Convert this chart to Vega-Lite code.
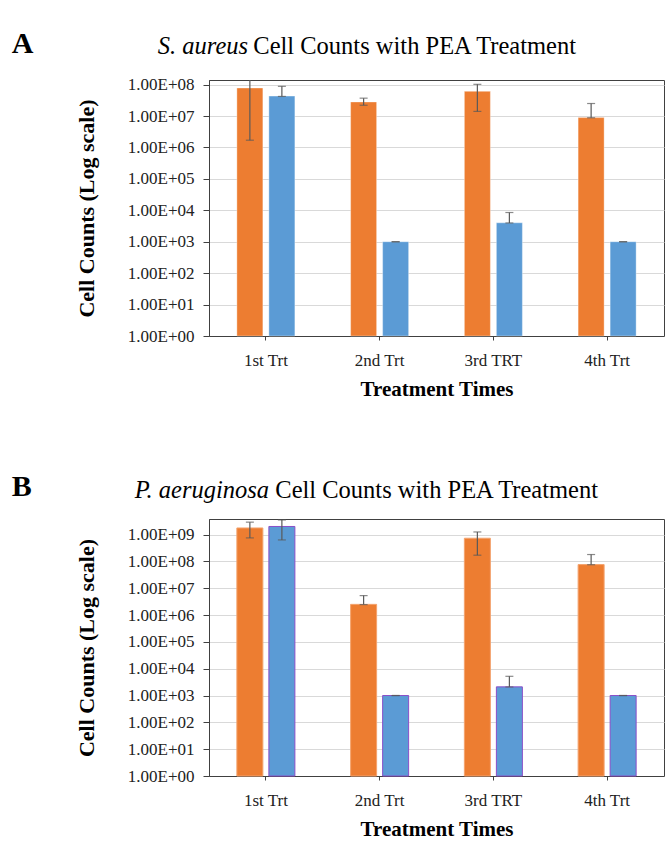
{
  "$schema": "https://vega.github.io/schema/vega-lite/v6.json",
  "padding": {"left": 11, "top": 28, "right": 0, "bottom": 0},
  "background": "white",
  "datasets": {
    "counts": [
      {"panel": "A", "trt": "1st Trt", "group": "Control", "value": 78000000, "lo": 1700000, "hi": 155000000},
      {"panel": "A", "trt": "1st Trt", "group": "PEA", "value": 43000000, "lo": 42000000, "hi": 88000000},
      {"panel": "A", "trt": "2nd Trt", "group": "Control", "value": 28000000, "lo": 22000000, "hi": 37000000},
      {"panel": "A", "trt": "2nd Trt", "group": "PEA", "value": 1000, "lo": 1000, "hi": 1000},
      {"panel": "A", "trt": "3rd TRT", "group": "Control", "value": 61000000, "lo": 14000000, "hi": 102000000},
      {"panel": "A", "trt": "3rd TRT", "group": "PEA", "value": 4000, "lo": 3950, "hi": 8500},
      {"panel": "A", "trt": "4th Trt", "group": "Control", "value": 8900000, "lo": 8800000, "hi": 25000000},
      {"panel": "A", "trt": "4th Trt", "group": "PEA", "value": 1000, "lo": 1000, "hi": 1000},
      {"panel": "B", "trt": "1st Trt", "group": "Control", "value": 1760000000, "lo": 750000000, "hi": 2900000000},
      {"panel": "B", "trt": "1st Trt", "group": "PEA", "value": 2000000000, "lo": 630000000, "hi": 3500000000},
      {"panel": "B", "trt": "2nd Trt", "group": "Control", "value": 2500000, "lo": 2450000, "hi": 5300000},
      {"panel": "B", "trt": "2nd Trt", "group": "PEA", "value": 1000, "lo": 1000, "hi": 1000},
      {"panel": "B", "trt": "3rd TRT", "group": "Control", "value": 730000000, "lo": 170000000, "hi": 1250000000},
      {"panel": "B", "trt": "3rd TRT", "group": "PEA", "value": 2100, "lo": 2080, "hi": 5200},
      {"panel": "B", "trt": "4th Trt", "group": "Control", "value": 76000000, "lo": 75000000, "hi": 180000000},
      {"panel": "B", "trt": "4th Trt", "group": "PEA", "value": 1000, "lo": 1000, "hi": 1000}
    ]
  },
  "config": {
    "font": "Liberation Serif",
    "view": {"stroke": "#404040", "strokeWidth": 1},
    "title": {"font": "Liberation Serif", "color": "#000000", "fontWeight": "normal"},
    "axis": {
      "labelFont": "Liberation Serif", "titleFont": "Liberation Serif",
      "labelColor": "#222222", "titleColor": "#000000",
      "domainColor": "#404040", "tickColor": "#404040",
      "labelFontSize": 17, "titleFontWeight": "bold"
    },
    "concat": {"spacing": 72}
  },
  "vconcat": [
    {
      "title": {"text": "A", "fontSize": 30, "fontWeight": "bold", "anchor": "start", "frame": "bounds", "baseline": "alphabetic", "offset": -49, "dx": -63},
      "vconcat": [
        {
          "title": {"text": "S. aureus", "fontSize": 24.5, "fontStyle": "italic", "anchor": "start", "frame": "bounds", "baseline": "alphabetic", "offset": -45, "dx": 83},
          "vconcat": [
            {
              "title": {"text": "Cell Counts with PEA Treatment", "fontSize": 24.5, "anchor": "middle", "frame": "bounds", "baseline": "alphabetic", "offset": -3, "dx": 45},
              "width": 455, "height": 256,
              "data": {"name": "counts"},
              "transform": [{"filter": "datum.panel === 'A'"}],
              "encoding": {
                "x": {"field": "trt", "type": "nominal", "sort": ["1st Trt", "2nd Trt", "3rd TRT", "4th Trt"],
                      "scale": {"paddingInner": 0.49, "paddingOuter": 0.245},
                      "axis": {"title": "Treatment Times", "labelAngle": 0, "tickSize": 4, "labelPadding": 12, "titleFontSize": 21, "titlePadding": 10, "grid": false}},
                "xOffset": {"field": "group", "sort": ["Control", "PEA"], "scale": {"paddingInner": 0.1875, "paddingOuter": 0}}
              },
              "layer": [
                {
                  "mark": {"type": "bar", "stroke": "#FFFFFF", "strokeOpacity": 0.35, "strokeWidth": 1},
                  "encoding": {
                    "y": {"field": "value", "type": "quantitative",
                          "scale": {"type": "log", "domain": [1, 140000000], "nice": false},
                          "axis": {"title": "Cell Counts  (Log scale)", "titleFontSize": 22, "titlePadding": 29, "tickSize": 6, "labelPadding": 9,
                                   "values": [1, 10, 100, 1000, 10000, 100000, 1000000, 10000000, 100000000],
                                   "labelExpr": "replace(upper(format(datum.value, '.2e')), '+', '+0')",
                                   "grid": true, "gridColor": "#D9D9D9"}},
                    "y2": {"datum": 1},
                    "color": {"field": "group", "type": "nominal", "scale": {"domain": ["Control", "PEA"], "range": ["#ED7D31", "#5B9BD5"]}, "legend": null}
                  }
                },
                {
                  "mark": {"type": "rule", "color": "#595959", "strokeWidth": 1.2, "clip": true},
                  "encoding": {"y": {"field": "lo", "type": "quantitative"}, "y2": {"field": "hi"}}
                },
                {
                  "mark": {"type": "tick", "orient": "horizontal", "size": 8, "thickness": 1.2, "color": "#595959", "clip": true},
                  "encoding": {"y": {"field": "lo", "type": "quantitative"}}
                },
                {
                  "mark": {"type": "tick", "orient": "horizontal", "size": 8, "thickness": 1.2, "color": "#595959", "clip": true},
                  "encoding": {"y": {"field": "hi", "type": "quantitative"}}
                }
              ]
            }
          ]
        }
      ]
    },
    {
      "title": {"text": "B", "fontSize": 30, "fontWeight": "bold", "anchor": "start", "frame": "bounds", "baseline": "alphabetic", "offset": -49, "dx": -63},
      "vconcat": [
        {
          "title": {"text": "P. aeruginosa", "fontSize": 24.5, "fontStyle": "italic", "anchor": "start", "frame": "bounds", "baseline": "alphabetic", "offset": -45, "dx": 60},
          "vconcat": [
            {
              "title": {"text": "Cell Counts with PEA Treatment", "fontSize": 24.5, "anchor": "middle", "frame": "bounds", "baseline": "alphabetic", "offset": -3, "dx": 67},
              "width": 455, "height": 257,
              "data": {"name": "counts"},
              "transform": [{"filter": "datum.panel === 'B'"}],
              "encoding": {
                "x": {"field": "trt", "type": "nominal", "sort": ["1st Trt", "2nd Trt", "3rd TRT", "4th Trt"],
                      "scale": {"paddingInner": 0.49, "paddingOuter": 0.245},
                      "axis": {"title": "Treatment Times", "labelAngle": 0, "tickSize": 4, "labelPadding": 12, "titleFontSize": 21, "titlePadding": 10, "grid": false}},
                "xOffset": {"field": "group", "sort": ["Control", "PEA"], "scale": {"paddingInner": 0.1875, "paddingOuter": 0}}
              },
              "layer": [
                {
                  "mark": {"type": "bar", "strokeWidth": 1},
                  "encoding": {
                    "y": {"field": "value", "type": "quantitative",
                          "scale": {"type": "log", "domain": [1, 3800000000], "nice": false},
                          "axis": {"title": "Cell Counts  (Log scale)", "titleFontSize": 22, "titlePadding": 29, "tickSize": 6, "labelPadding": 9,
                                   "values": [1, 10, 100, 1000, 10000, 100000, 1000000, 10000000, 100000000, 1000000000],
                                   "labelExpr": "replace(upper(format(datum.value, '.2e')), '+', '+0')",
                                   "grid": true, "gridColor": "#D9D9D9"}},
                    "y2": {"datum": 1},
                    "color": {"field": "group", "type": "nominal", "scale": {"domain": ["Control", "PEA"], "range": ["#ED7D31", "#5B9BD5"]}, "legend": null},
                    "stroke": {"field": "group", "type": "nominal", "scale": {"domain": ["Control", "PEA"], "range": ["#F4A36E", "#8A4FC8"]}, "legend": null}
                  }
                },
                {
                  "mark": {"type": "rule", "color": "#595959", "strokeWidth": 1.2, "clip": true},
                  "encoding": {"y": {"field": "lo", "type": "quantitative"}, "y2": {"field": "hi"}}
                },
                {
                  "mark": {"type": "tick", "orient": "horizontal", "size": 8, "thickness": 1.2, "color": "#595959", "clip": true},
                  "encoding": {"y": {"field": "lo", "type": "quantitative"}}
                },
                {
                  "mark": {"type": "tick", "orient": "horizontal", "size": 8, "thickness": 1.2, "color": "#595959", "clip": true},
                  "encoding": {"y": {"field": "hi", "type": "quantitative"}}
                }
              ]
            }
          ]
        }
      ]
    }
  ]
}
